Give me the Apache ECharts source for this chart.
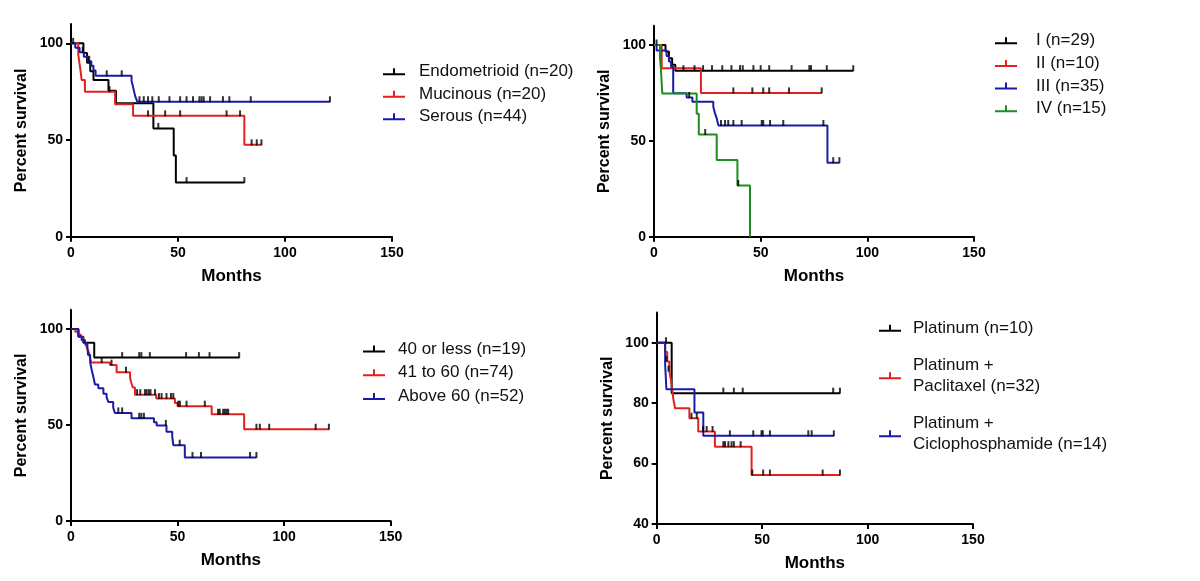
<!DOCTYPE html>
<html><head><meta charset="utf-8">
<script src="https://cdn.jsdelivr.net/npm/echarts@6.0.0/dist/echarts.min.js"></script>
<style>html,body{margin:0;padding:0;background:#fff}#c{width:1200px;height:581px}</style>
</head><body><div id="c"></div><script>
// ---------- tick labels ----------
const xTickValues = [0, 50, 100, 150];
const ySurvTicks = [0, 50, 100];
const yTreatTicks = [40, 60, 80, 100];

// ---------- Panel 1: histology ----------
const endometrioidSurv = [[0,100],[5.8,95],[7.5,90],[9,85.5],[10.5,81],[17.5,75.5],[21,69],[38.5,56],[48,42],[49,28],[81,28]];
const endometrioidCens = [[40.8,56],[54,28],[81,28]];
const mucinousSurv = [[0,100],[3.4,94],[4.2,88],[5,81],[6.5,75],[20.6,68.5],[29,62.5],[81,47.5],[89,47.5]];
const mucinousCens = [[18,75],[36,62.5],[44,62.5],[51,62.5],[72.7,62.5],[79,62.5],[84.4,47.5],[86.8,47.5],[89,47.5]];
const serousSurv = [[0,100],[2,97.7],[4,95.4],[6,93],[8,90.7],[9.5,88.4],[10.5,86],[11.5,83.2],[28.3,80.5],[29,77.5],[29.6,74.5],[30.2,72],[31,69.8],[121,69.8]];
const serousCens = [[1,100],[5.5,95.4],[8.5,90.7],[16.7,83.2],[23.7,83.2],[32,69.8],[34,69.8],[36,69.8],[38,69.8],[41,69.8],[46,69.8],[51,69.8],[54,69.8],[57,69.8],[60,69.8],[61,69.8],[62,69.8],[65,69.8],[71,69.8],[74,69.8],[84,69.8],[121,69.8]];

// ---------- Panel 2: stage ----------
const stageISurv = [[0,100],[5.4,96.6],[7,93.1],[8.5,89.7],[10,86.6],[93.4,86.6]];
const stageICens = [[1.2,100],[13.8,86.6],[19,86.6],[23,86.6],[27.2,86.6],[32,86.6],[36.3,86.6],[40.3,86.6],[41.6,86.6],[46.6,86.6],[50,86.6],[54,86.6],[64.5,86.6],[72.8,86.6],[73.6,86.6],[81,86.6],[93.4,86.6]];
const stageIISurv = [[0,100],[3.6,87.8],[22,75],[78.6,75]];
const stageIICens = [[37.2,75],[46.1,75],[51.2,75],[54,75],[63.3,75],[78.6,75]];
const stageIIISurv = [[0,100],[1.2,97.1],[5.9,94.3],[7,91.4],[8,88.6],[9,74.8],[15.3,72.6],[18,70.4],[27.8,67.8],[28.6,64.3],[29.4,61.7],[30.2,58],[81.3,38.6],[86.9,38.6]];
const stageIIICens = [[16.5,72.6],[31.4,58],[33.3,58],[34.8,58],[37.2,58],[41.1,58],[50.5,58],[51.2,58],[54.4,58],[60.6,58],[79.4,58],[84,38.6],[86.9,38.6]];
const stageIVSurv = [[0,100],[2.8,93.3],[3.3,86.7],[3.6,80],[3.9,74.7],[20,64.1],[21,53.3],[29.4,40],[39.1,26.7],[45,0]];
const stageIVCens = [[24,53.3],[39.5,26.7]];

// ---------- Panel 3: age ----------
const age40Surv = [[0,100],[3.5,96],[5.8,92.9],[10.9,85.1],[78.9,85.1]];
const age40Cens = [[24,85.1],[32,85.1],[33,85.1],[37,85.1],[54,85.1],[60,85.1],[65,85.1],[78.9,85.1]];
const age41Surv = [[0,100],[2,98.6],[3.5,97.2],[4.5,95.8],[5.5,94.4],[6.5,93],[7,91.6],[7.5,90.2],[8,88.8],[8.5,87.4],[9,84.5],[9.5,82.5],[18.3,81.2],[21.4,77.5],[27.7,74.6],[28.3,72],[29,69.5],[30,65.8],[40,63.8],[48.75,61.4],[50,59.8],[66,55.6],[81.25,47.8],[121,47.8]];
const age41Cens = [[14.4,82.5],[19,81.2],[25.8,77.5],[31,65.8],[32.5,65.8],[34.7,65.8],[35.5,65.8],[36.5,65.8],[37.3,65.8],[39.4,65.8],[41.25,63.8],[42.5,63.8],[44.8,63.8],[46.9,63.8],[48,63.8],[50.3,59.8],[51.1,59.8],[54.2,59.8],[62.8,59.8],[69,55.6],[69.8,55.6],[71.4,55.6],[72.2,55.6],[73,55.6],[73.75,55.6],[87,47.8],[88.6,47.8],[93,47.8],[114.8,47.8],[121,47.8]];
const age60Surv = [[0,100],[3.4,96.2],[5,94.2],[6.5,92.3],[7.7,90.4],[8,86.5],[9,82.7],[9.7,78.8],[10.5,75],[11.25,71.1],[12.8,69.2],[15.2,66.3],[16.7,64.4],[17.5,62],[19.8,59],[20.6,56.3],[28.4,53.5],[38.9,51.4],[40.2,49.8],[44.8,46.5],[47.5,44],[48,39.5],[53.4,33.1],[87,33.1]];
const age60Cens = [[22.2,56.3],[24,56.3],[32,53.5],[33,53.5],[34.2,53.5],[44.5,49.8],[51,39.5],[57,33.1],[61,33.1],[84,33.1],[87,33.1]];

// ---------- Panel 4: treatment ----------
const platSurv = [[0,100],[7.1,83.3],[86.9,83.3]];
const platCens = [[4.4,100],[31.6,83.3],[36.6,83.3],[40.8,83.3],[83.7,83.3],[86.9,83.3]];
const paclSurv = [[0,100],[4,96.9],[5,93.8],[6,90.6],[6.8,87.5],[7.4,84.4],[7.9,81.3],[8.7,78.3],[15.5,75],[19.7,70.6],[27.6,65.6],[45,56.2],[86.9,56.2]];
const paclCens = [[4.6,93.8],[5.6,90.6],[16.5,75],[19,75],[22,70.6],[23.7,70.6],[26.5,70.6],[31.6,65.6],[32.4,65.6],[34,65.6],[35.5,65.6],[36.6,65.6],[39.8,65.6],[45.3,56.2],[50.5,56.2],[53.7,56.2],[78.7,56.2],[86.9,56.2]];
const cycloSurv = [[0,100],[4,92.9],[4.6,84.6],[17.9,76.9],[22.1,69.2],[84,69.2]];
const cycloCens = [[34.7,69.2],[45.8,69.2],[49.7,69.2],[50.3,69.2],[53.7,69.2],[71.9,69.2],[73.5,69.2],[84,69.2]];

// ---------- layout / style ----------
const FONT = '"Liberation Sans", Arial, sans-serif';
const BLACK = '#000000', RED = '#e3201e', BLUE = '#1b1ba8', GREEN = '#1e8c1e';

const panels = [
  { grid:{left:71, top:24.0, width:321, height:212.7}, yMin:0, yMax:110, yTicks:ySurvTicks,
    legend:{left:383, top:61.7, itemGap:2.5, lh:20, pad:9},
    curves:[
      {name:'Endometrioid (n=20)', color:BLACK, surv:endometrioidSurv, cens:endometrioidCens},
      {name:'Mucinous (n=20)', color:RED, surv:mucinousSurv, cens:mucinousCens},
      {name:'Serous (n=44)', color:BLUE, surv:serousSurv, cens:serousCens}]},
  { grid:{left:654, top:25.8, width:320, height:210.9}, yMin:0, yMax:110, yTicks:ySurvTicks,
    legend:{left:995, top:30.7, itemGap:2.7, lh:20, pad:14},
    curves:[
      {name:'I (n=29)', color:BLACK, surv:stageISurv, cens:stageICens},
      {name:'II (n=10)', color:RED, surv:stageIISurv, cens:stageIICens},
      {name:'III (n=35)', color:BLUE, surv:stageIIISurv, cens:stageIIICens},
      {name:'IV (n=15)', color:GREEN, surv:stageIVSurv, cens:stageIVCens}]},
  { grid:{left:71, top:309.8, width:319.7, height:211.2}, yMin:0, yMax:110, yTicks:ySurvTicks,
    legend:{left:363, top:339, itemGap:3.8, lh:20, pad:8},
    curves:[
      {name:'40 or less (n=19)', color:BLACK, surv:age40Surv, cens:age40Cens},
      {name:'41 to 60 (n=74)', color:RED, surv:age41Surv, cens:age41Cens},
      {name:'Above 60 (n=52)', color:BLUE, surv:age60Surv, cens:age60Cens}]},
  { grid:{left:656.7, top:312.5, width:316.3, height:211.5}, yMin:40, yMax:110, yTicks:yTreatTicks,
    legend:{left:879, top:317.8, itemGap:16, lh:21, pad:7},
    curves:[
      {name:'Platinum (n=10)', color:BLACK, surv:platSurv, cens:platCens},
      {name:'Platinum +\nPaclitaxel (n=32)', color:RED, surv:paclSurv, cens:paclCens},
      {name:'Platinum +\nCiclophosphamide (n=14)', color:BLUE, surv:cycloSurv, cens:cycloCens}]}
];

const ICON = 'path://M0,5h22v2h-22z M10,0h2v5h-2z';
const option = {animation:false, backgroundColor:'#fff', grid:[], xAxis:[], yAxis:[], series:[], legend:[]};
panels.forEach((p, i) => {
  option.grid.push(Object.assign({containLabel:false}, p.grid));
  option.xAxis.push({
    type:'value', gridIndex:i, min:0, max:150, interval:50,
    name:'Months', nameLocation:'middle', nameGap:31,
    nameTextStyle:{fontFamily:FONT, fontWeight:'bold', fontSize:17, color:'#000'},
    axisLine:{onZero:false, lineStyle:{color:'#000', width:2}},
    axisTick:{show:true, length:5, lineStyle:{color:'#000', width:2}, customValues:xTickValues},
    axisLabel:{margin:9, fontFamily:FONT, fontWeight:'bold', fontSize:14, color:'#000', customValues:xTickValues},
    splitLine:{show:false}
  });
  option.yAxis.push({
    type:'value', gridIndex:i, min:p.yMin, max:p.yMax,
    name:'Percent survival', nameLocation:'middle', nameGap:41,
    nameTextStyle:{fontFamily:FONT, fontWeight:'bold', fontSize:16, color:'#000'},
    axisLine:{show:true, onZero:false, lineStyle:{color:'#000', width:2}},
    axisTick:{show:true, length:5, lineStyle:{color:'#000', width:2}, customValues:p.yTicks},
    axisLabel:{margin:8, fontFamily:FONT, fontWeight:'bold', fontSize:14, color:'#000', customValues:p.yTicks},
    splitLine:{show:false}
  });
  p.curves.forEach(c => {
    option.series.push({
      type:'line', name:c.name, xAxisIndex:i, yAxisIndex:i, data:c.surv, step:'end',
      symbol:'none', showSymbol:false, silent:true,
      lineStyle:{color:c.color, width:2}, itemStyle:{color:c.color}, z:2
    });
    option.series.push({
      type:'scatter', name:c.name + ' censored', xAxisIndex:i, yAxisIndex:i, data:c.cens,
      symbol:'rect', symbolSize:[2,6], symbolOffset:[0,-2.5], silent:true,
      itemStyle:{color:'#000'}, z:3
    });
  });
  option.legend.push({
    orient:'vertical', left:p.legend.left, top:p.legend.top, itemGap:p.legend.itemGap,
    itemWidth:22, itemHeight:7, icon:ICON, selectedMode:false, padding:0,
    itemStyle:{borderWidth:0},
    textStyle:{fontFamily:FONT, fontSize:17, color:'#111', lineHeight:p.legend.lh, padding:[0,0,0,p.legend.pad]},
    data:p.curves.map(c => c.name)
  });
});
const chart = echarts.init(document.getElementById('c'), null, {renderer:'canvas'});
chart.setOption(option);
</script></body></html>
